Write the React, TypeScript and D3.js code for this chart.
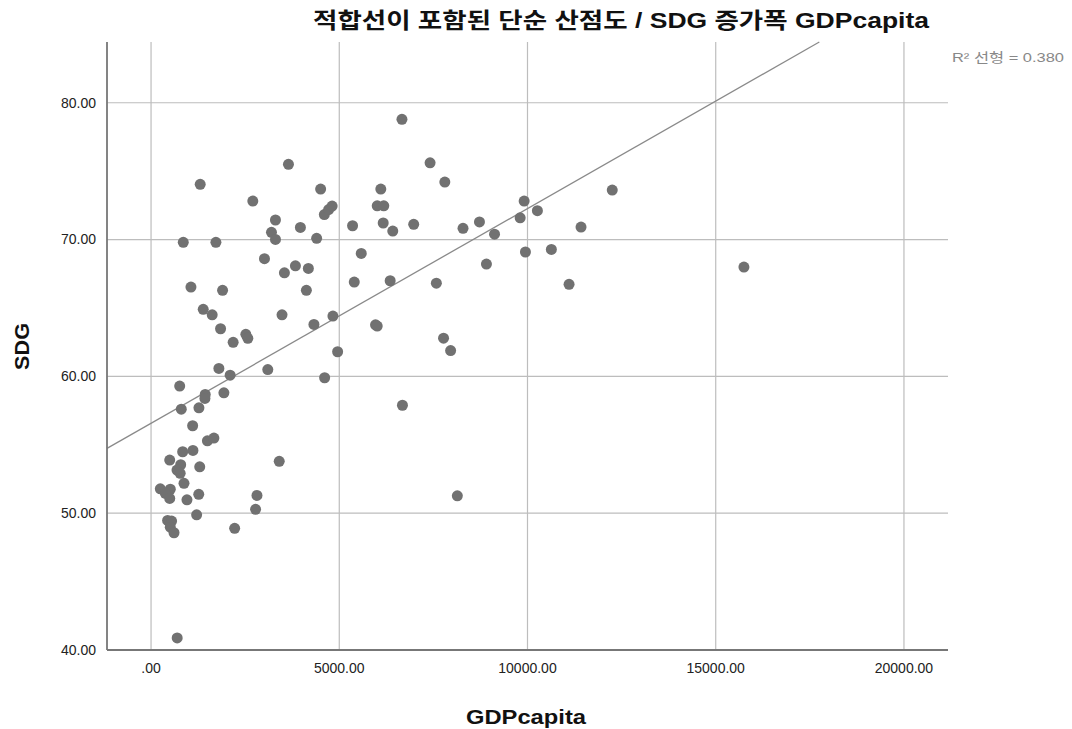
import React from 'react';
import * as d3 from 'd3';

// GDP per capita (x) and SDG increase (y)
const gdpValues = [
  3650, 1306, 4505, 2703, 4603, 4717, 4810, 3305, 3967, 3199,
  3305, 4399, 856, 1723, 3013, 3543, 3835, 4179, 1060, 1900,
  4126, 1386, 1624, 3479, 1847, 4327, 4831, 2518, 2571, 2181,
  4956, 1802, 2101, 3101, 4611, 761, 1439, 1431, 1935, 803,
  1272, 1105, 1497, 1670, 840, 1113, 496, 787, 689, 774,
  1293, 3405, 875, 246, 511, 379, 496, 954, 1267, 2814,
  2777, 1211, 440, 546, 511, 610, 2221, 694, 6665, 7412,
  7804, 6103, 6008, 6182, 5353, 6167, 6421, 6977, 8287, 8724,
  9124, 9911, 9805, 10263, 11422, 12251, 9945, 10634, 5584, 8909,
  5398, 6352, 7579, 11104, 15749, 5963, 6008, 7770, 7958, 6678,
  8136,
];
const sdgValues = [
  75.5, 74.04, 73.69, 72.81, 71.83, 72.19, 72.45, 71.43, 70.89, 70.53,
  70.01, 70.09, 69.8, 69.8, 68.6, 67.57, 68.08, 67.89, 66.53, 66.29,
  66.29, 64.9, 64.5, 64.5, 63.48, 63.8, 64.41, 63.07, 62.78, 62.49,
  61.8, 60.58, 60.09, 60.5, 59.9, 59.29, 58.68, 58.39, 58.8, 57.6,
  57.7, 56.39, 55.29, 55.49, 54.49, 54.59, 53.88, 53.54, 53.15, 52.91,
  53.39, 53.79, 52.18, 51.78, 51.75, 51.45, 51.08, 50.98, 51.38, 51.3,
  50.28, 49.88, 49.47, 49.42, 48.98, 48.57, 48.89, 40.88, 78.79, 75.61,
  74.2, 73.69, 72.47, 72.47, 71.01, 71.21, 70.62, 71.11, 70.82, 71.29,
  70.39, 72.81, 71.59, 72.11, 70.91, 73.62, 69.09, 69.28, 68.99, 68.21,
  66.89, 66.99, 66.81, 66.73, 67.99, 63.77, 63.68, 62.79, 61.89, 57.89,
  51.27,
];

const xTicks = [0, 5000, 10000, 15000, 20000];
const yTicks = [40, 50, 60, 70, 80];

// linear fit shown in the chart
const fitIntercept = 56.57;
const fitSlope = 0.00157;
const rSquared = 0.38;

const title = '적합선이 포함된 단순 산점도 / SDG 증가폭 GDPcapita';
const xLabel = 'GDPcapita';
const yLabel = 'SDG';

const width = 1072;
const height = 729;
const margin = { top: 42, right: 124, bottom: 79, left: 107 };

const fmt = (v: number) => (v === 0 ? '.00' : d3.format('.2f')(v));

export default function App() {
  const innerW = width - margin.left - margin.right;
  const innerH = height - margin.top - margin.bottom;

  const x = d3.scaleLinear().domain([-1170, 21170]).range([0, innerW]);
  const y = d3.scaleLinear().domain([40, 84.44]).range([innerH, 0]);

  const points = gdpValues.map((g, i) => ({ g, s: sdgValues[i] }));

  // fit line, clipped to the plot top
  const xStart = x.domain()[0];
  const xEnd = Math.min(x.domain()[1], (y.domain()[1] - fitIntercept) / fitSlope);
  const fitLine = d3.line<number>()
    .x(d => x(d))
    .y(d => y(fitIntercept + fitSlope * d));

  const font = '"Liberation Sans", Arial, "Noto Sans CJK KR", sans-serif';

  return (
    <div style={{ position: 'absolute', left: 0, top: 0 }}>
      <svg width={width} height={height} style={{ display: 'block', background: '#fff' }}>
        <text x={313} y={28} textLength={616} lengthAdjust="spacingAndGlyphs" fontFamily={font} fontSize={22} fontWeight="bold" fill="#111">
          {title}
        </text>
        <text x={952} y={62} textLength={112} lengthAdjust="spacingAndGlyphs" fontFamily={font} fontSize={13} fill="#888">
          R² 선형 = {rSquared.toFixed(3)}
        </text>

        <g transform={`translate(${margin.left},${margin.top})`}>
          {xTicks.map(t => (
            <line key={'gx' + t} x1={x(t)} x2={x(t)} y1={0} y2={innerH} stroke="#bdbdbd" strokeWidth={1.2} />
          ))}
          {yTicks.filter(t => t > 40).map(t => (
            <line key={'gy' + t} x1={0} x2={innerW} y1={y(t)} y2={y(t)} stroke="#bdbdbd" strokeWidth={1.2} />
          ))}

          <path d={fitLine([xStart, xEnd]) || ''} fill="none" stroke="#8a8a8a" strokeWidth={1.3} />

          {points.map((p, i) => (
            <circle key={i} cx={x(p.g)} cy={y(p.s)} r={5.5} fill="#717171" />
          ))}

          <line x1={0} x2={0} y1={0} y2={innerH} stroke="#777" strokeWidth={1.8} />
          <line x1={0} x2={innerW} y1={innerH} y2={innerH} stroke="#777" strokeWidth={1.8} />

          {yTicks.map(t => (
            <text key={'ty' + t} x={-11} y={y(t)} dy="0.35em" textAnchor="end" fontFamily={font} fontSize={14} fill="#222">
              {fmt(t)}
            </text>
          ))}
          {xTicks.map(t => (
            <text key={'tx' + t} x={x(t)} y={innerH + 23} textAnchor="middle" fontFamily={font} fontSize={14} fill="#222">
              {fmt(t)}
            </text>
          ))}
        </g>

        <text x={466} y={724} textLength={120} lengthAdjust="spacingAndGlyphs" fontFamily={font} fontSize={21} fontWeight="bold" fill="#111">
          {xLabel}
        </text>
        <text transform={`translate(29,${370}) rotate(-90)`} textLength={47} lengthAdjust="spacingAndGlyphs" fontFamily={font} fontSize={20} fontWeight="bold" fill="#111">
          {yLabel}
        </text>
      </svg>
    </div>
  );
}
